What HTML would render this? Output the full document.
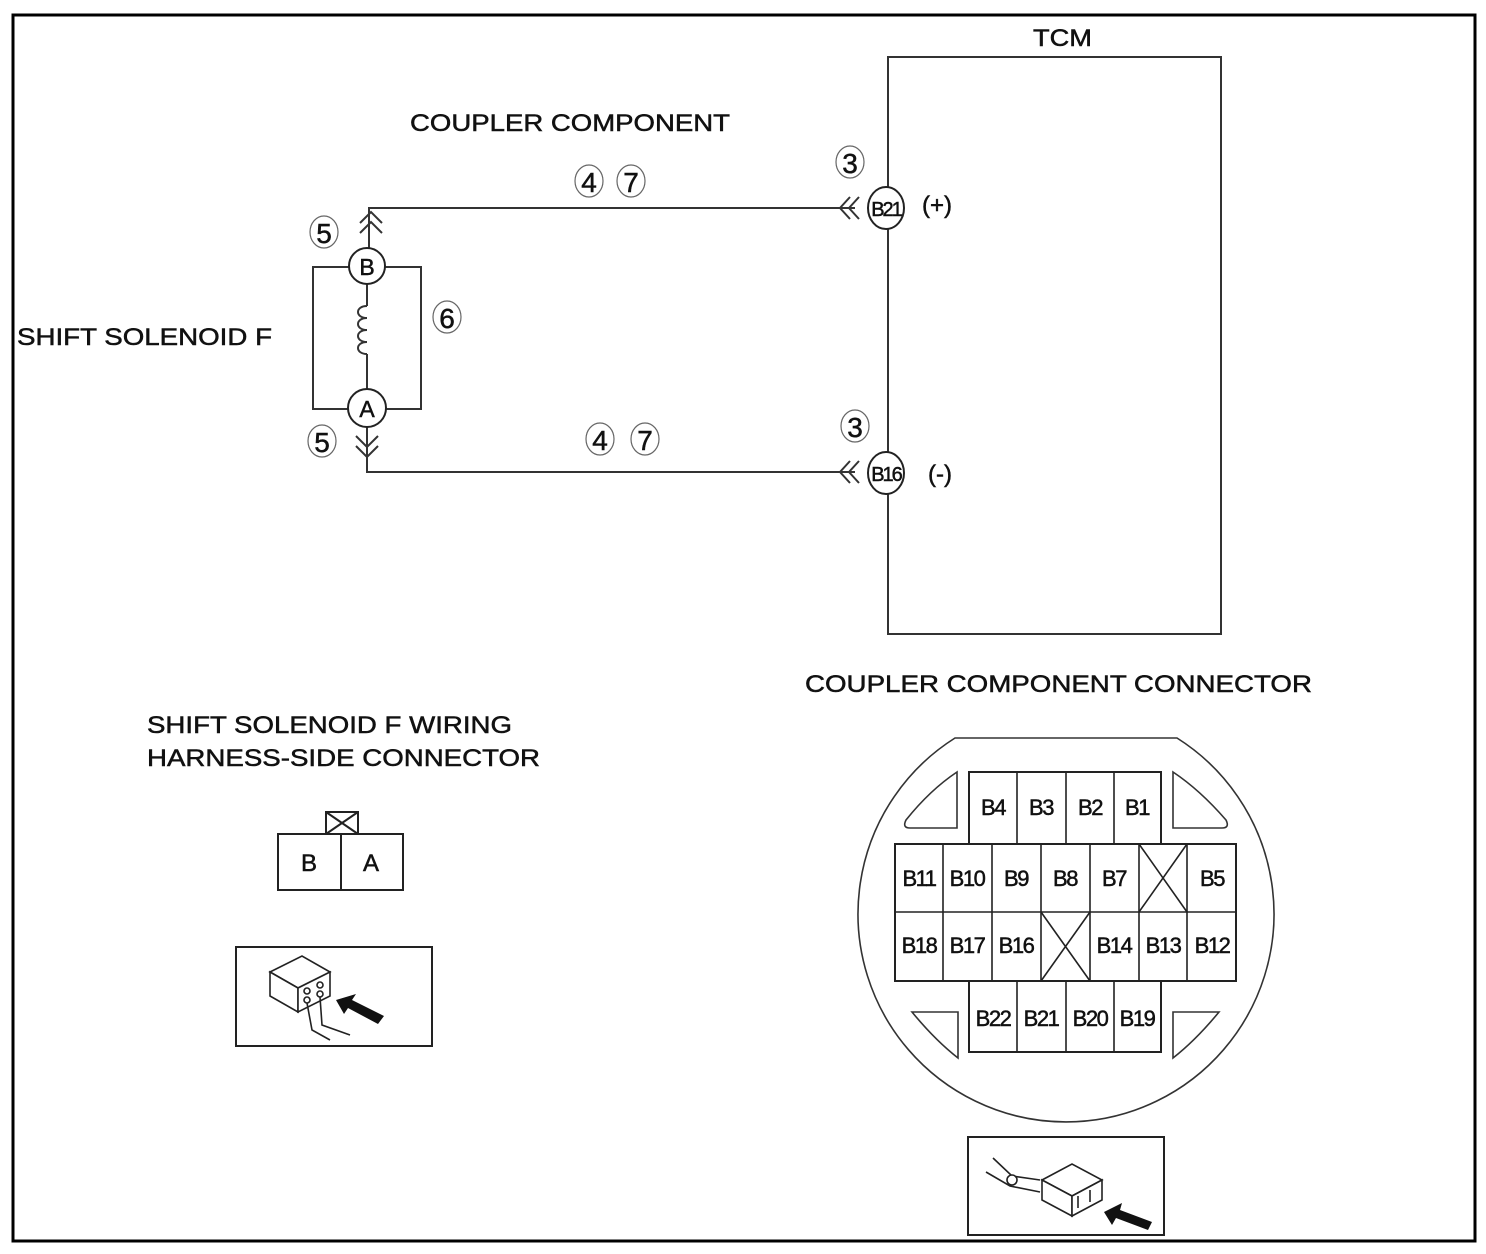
<!DOCTYPE html>
<html><head><meta charset="utf-8"><style>
html,body{margin:0;padding:0;background:#fff}
svg{display:block}
text{font-family:"Liberation Sans",Arial,sans-serif;fill:#111}
.t{stroke:#111;stroke-width:0.5}
</style></head><body>
<svg width="1486" height="1254" viewBox="0 0 1486 1254" xmlns="http://www.w3.org/2000/svg">
<rect x="13" y="15" width="1462" height="1226" fill="#fff" stroke="#000" stroke-width="3"/>
<g stroke="#333" stroke-width="2" fill="none">
 <rect x="888" y="57" width="333" height="577"/>
 <polyline points="855,208 369,208 369,248"/>
 <polyline points="855,472 367,472 367,426"/>
 <rect x="313" y="267" width="108" height="142"/>
 <line x1="367" y1="284" x2="367" y2="306"/>
 <path d="M367,306 c-12,0 -12,12 0,12 c-12,0 -12,12 0,12 c-12,0 -12,12 0,12 c-12,0 -12,12 0,12"/>
 <line x1="367" y1="354" x2="367" y2="390"/>
 <polyline points="360,223 371,212 382,223"/>
 <polyline points="360,233 371,222 382,233"/>
 <polyline points="356,436 367,447 378,436"/>
 <polyline points="356,446 367,457 378,446"/>
 <polyline points="850,197 840,208 850,219"/>
 <polyline points="859,197 849,208 859,219"/>
 <polyline points="850,461 840,472 850,483"/>
 <polyline points="859,461 849,472 859,483"/>
</g>
<g stroke="#222" stroke-width="2" fill="#fff">
 <ellipse cx="367" cy="266" rx="18" ry="18"/>
 <ellipse cx="367" cy="408" rx="19" ry="19"/>
 <ellipse cx="886" cy="208" rx="18" ry="21"/>
 <ellipse cx="886" cy="473" rx="18" ry="21"/>
</g>
<g font-size="23" text-anchor="middle" class="t">
 <text x="367" y="275">B</text>
 <text x="367" y="417">A</text>
 <text x="886" y="216" font-size="20" letter-spacing="-2">B21</text>
 <text x="886" y="481" font-size="20" letter-spacing="-2">B16</text>
</g>
<g font-size="24" class="t">
 <text x="922" y="213">(+)</text>
 <text x="928" y="482">(-)</text>
 <text x="1033" y="46" textLength="59" lengthAdjust="spacingAndGlyphs">TCM</text>
 <text x="410" y="131" textLength="320" lengthAdjust="spacingAndGlyphs">COUPLER COMPONENT</text>
 <text x="17" y="345" textLength="255" lengthAdjust="spacingAndGlyphs">SHIFT SOLENOID F</text>
 <text x="805" y="692" textLength="507" lengthAdjust="spacingAndGlyphs">COUPLER COMPONENT CONNECTOR</text>
 <text x="147" y="733" textLength="365" lengthAdjust="spacingAndGlyphs">SHIFT SOLENOID F WIRING</text>
 <text x="147" y="766" textLength="393" lengthAdjust="spacingAndGlyphs">HARNESS-SIDE CONNECTOR</text>
</g>
<g stroke="#666" stroke-width="1.2" fill="none">
 <ellipse cx="589" cy="181" rx="14" ry="16"/><ellipse cx="631" cy="181" rx="14" ry="16"/>
 <ellipse cx="600" cy="439" rx="14" ry="16"/><ellipse cx="645" cy="439" rx="14" ry="16"/>
 <ellipse cx="850" cy="162" rx="14" ry="16"/><ellipse cx="855" cy="426" rx="14" ry="16"/>
 <ellipse cx="324" cy="232" rx="14" ry="16"/><ellipse cx="322" cy="441" rx="14" ry="16"/>
 <ellipse cx="447" cy="317" rx="14" ry="16"/>
</g>
<g font-size="28" text-anchor="middle" class="t">
 <text x="589" y="192">4</text><text x="631" y="192">7</text>
 <text x="600" y="450">4</text><text x="645" y="450">7</text>
 <text x="850" y="173">3</text><text x="855" y="437">3</text>
 <text x="324" y="243">5</text><text x="322" y="452">5</text>
 <text x="447" y="328">6</text>
</g>
<g stroke="#222" stroke-width="2" fill="none">
 <rect x="326" y="812" width="32" height="22"/>
 <line x1="326" y1="812" x2="358" y2="834"/><line x1="358" y1="812" x2="326" y2="834"/>
 <rect x="278" y="834" width="125" height="56" fill="#fff"/>
 <line x1="341" y1="834" x2="341" y2="890"/>
 <rect x="236" y="947" width="196" height="99"/>
</g>
<g font-size="24" text-anchor="middle" class="t"><text x="309" y="871">B</text><text x="371" y="871">A</text></g>
<g stroke="#222" stroke-width="1.6" fill="#fff">
 <polygon points="270,972 302,956 330,972 298,988"/>
 <polygon points="270,972 298,988 298,1012 270,996"/>
 <polygon points="298,988 330,972 330,996 298,1012"/>
 <circle cx="307" cy="991" r="3"/><circle cx="320" cy="985" r="3"/>
 <circle cx="307" cy="1000" r="3"/><circle cx="320" cy="994" r="3"/>
 <polyline points="307,1003 312,1030 330,1040" fill="none"/>
 <polyline points="320,997 322,1025 350,1035" fill="none"/>
</g>
<polygon points="336,1000 356,994 352,1000 384,1016 378,1024 348,1008 344,1014" fill="#111"/>
<path d="M955,738 L1177,738 A208,208 0 1 1 955,738 Z" fill="none" stroke="#333" stroke-width="1.6"/>
<g stroke="#333" stroke-width="1.6" fill="none">
 <path d="M957,772 L957,828 L910,828 Q902,828 906,820 Q930,790 957,772Z"/>
 <path d="M1173,772 L1173,828 L1222,828 Q1230,828 1226,820 Q1200,790 1173,772Z"/>
 <path d="M912,1012 L958,1012 L958,1058 Q935,1040 912,1012Z"/>
 <path d="M1173,1012 L1219,1012 Q1196,1040 1173,1058Z"/>
</g>
<g stroke="#222" stroke-width="2" fill="#fff">
 <rect x="969" y="772" width="192" height="72"/>
 <rect x="969" y="981" width="192" height="71"/>
 <rect x="895" y="844" width="341" height="137"/>
</g>
<g stroke="#222" stroke-width="1.6">
 <line x1="1017" y1="772" x2="1017" y2="844"/><line x1="1066" y1="772" x2="1066" y2="844"/><line x1="1114" y1="772" x2="1114" y2="844"/>
 <line x1="1017" y1="981" x2="1017" y2="1052"/><line x1="1066" y1="981" x2="1066" y2="1052"/><line x1="1114" y1="981" x2="1114" y2="1052"/>
 <line x1="895" y1="912" x2="1236" y2="912"/>
 <line x1="943" y1="844" x2="943" y2="981"/><line x1="992" y1="844" x2="992" y2="981"/><line x1="1041" y1="844" x2="1041" y2="981"/>
 <line x1="1090" y1="844" x2="1090" y2="981"/><line x1="1139" y1="844" x2="1139" y2="981"/><line x1="1187" y1="844" x2="1187" y2="981"/>
 <line x1="1139" y1="844" x2="1187" y2="912"/><line x1="1187" y1="844" x2="1139" y2="912"/>
 <line x1="1041" y1="912" x2="1090" y2="981"/><line x1="1090" y1="912" x2="1041" y2="981"/>
</g>
<g font-size="22" text-anchor="middle" letter-spacing="-1.5" class="t">
 <text x="993" y="815">B4</text><text x="1041" y="815">B3</text><text x="1090" y="815">B2</text><text x="1137" y="815">B1</text>
 <text x="919" y="886">B11</text><text x="967" y="886">B10</text><text x="1016" y="886">B9</text><text x="1065" y="886">B8</text><text x="1114" y="886">B7</text><text x="1212" y="886">B5</text>
 <text x="919" y="953">B18</text><text x="967" y="953">B17</text><text x="1016" y="953">B16</text><text x="1114" y="953">B14</text><text x="1163" y="953">B13</text><text x="1212" y="953">B12</text>
 <text x="993" y="1026">B22</text><text x="1041" y="1026">B21</text><text x="1090" y="1026">B20</text><text x="1137" y="1026">B19</text>
</g>
<rect x="968" y="1137" width="196" height="98" fill="none" stroke="#222" stroke-width="2"/>
<g stroke="#222" stroke-width="1.6" fill="#fff">
 <polyline points="993,1158 1012,1176 1040,1180" fill="none"/>
 <polyline points="986,1172 1010,1186 1040,1192" fill="none"/>
 <circle cx="1012" cy="1180" r="5"/>
 <polygon points="1042,1180 1072,1164 1102,1180 1072,1196"/>
 <polygon points="1042,1180 1072,1196 1072,1216 1042,1200"/>
 <polygon points="1072,1196 1102,1180 1102,1200 1072,1216"/>
 <line x1="1078" y1="1196" x2="1078" y2="1208"/><line x1="1090" y1="1190" x2="1090" y2="1202"/>
</g>
<polygon points="1104,1212 1122,1203 1120,1210 1152,1222 1148,1230 1116,1218 1112,1225" fill="#111"/>
</svg>
</body></html>
